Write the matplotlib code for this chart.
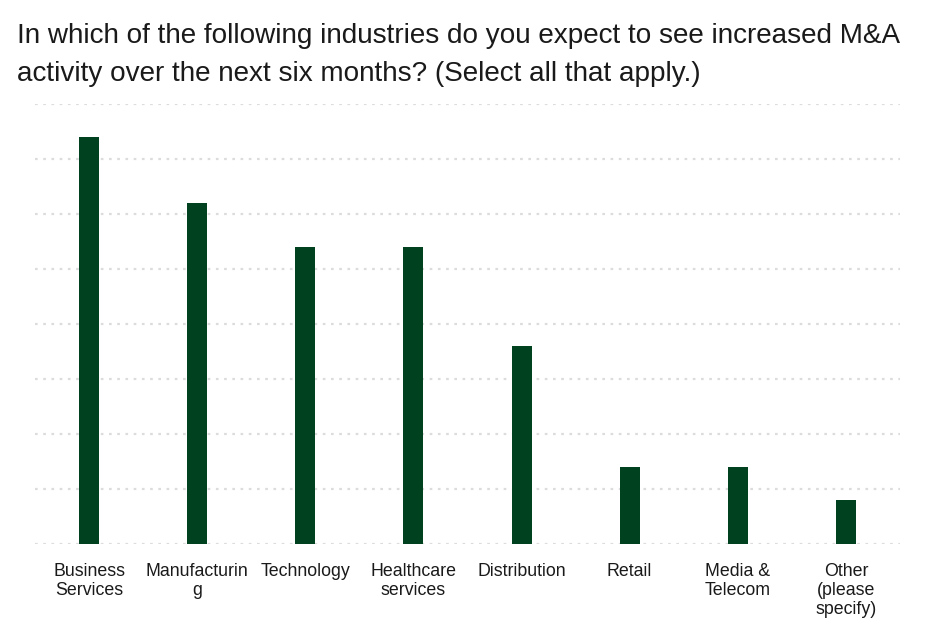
import matplotlib
matplotlib.use("Agg")
import matplotlib.pyplot as plt
import numpy as np

plt.rcParams["font.family"] = ["Liberation Sans", "DejaVu Sans"]

categories = [
    "Business\nServices",
    "Manufacturin\ng",
    "Technology",
    "Healthcare\nservices",
    "Distribution",
    "Retail",
    "Media &\nTelecom",
    "Other\n(please\nspecify)",
]
responses = [37, 31, 27, 27, 18, 7, 7, 4]
grid_levels = [0, 5, 10, 15, 20, 25, 30, 35, 40]

BarColour = "#00421f"
GridColour = "#dcdcdc"

fig = plt.figure(figsize=(9.36, 6.32), dpi=100)
ax = fig.add_axes([0.0374, 0.1392, 0.9241, 0.6962])

x = np.arange(len(categories))
ax.bar(x, responses, width=0.185, color=BarColour, zorder=3)

for level in grid_levels:
    ax.axhline(level, color=GridColour, linestyle=(0, (1.2, 2.5)), linewidth=1.6, zorder=1)

ax.set_xlim(-0.5, len(categories) - 0.5)
ax.set_ylim(0, 40)
ax.set_yticks([])
ax.set_xticks(x)
ax.set_xticklabels(categories, fontsize=12.8, color="#1a1a1a", linespacing=1.15, va="top")
ax.tick_params(axis="x", length=0, pad=14)
for side in ["top", "right", "left", "bottom"]:
    ax.spines[side].set_visible(False)

fig.text(0.018, 0.913, "In which of the following industries do you expect to see increased M&A\nactivity over the next six months? (Select all that apply.)",
         fontsize=20.1, color="#1a1a1a", ha="left", va="center", linespacing=1.6)

fig.savefig("out.png", dpi=100)
